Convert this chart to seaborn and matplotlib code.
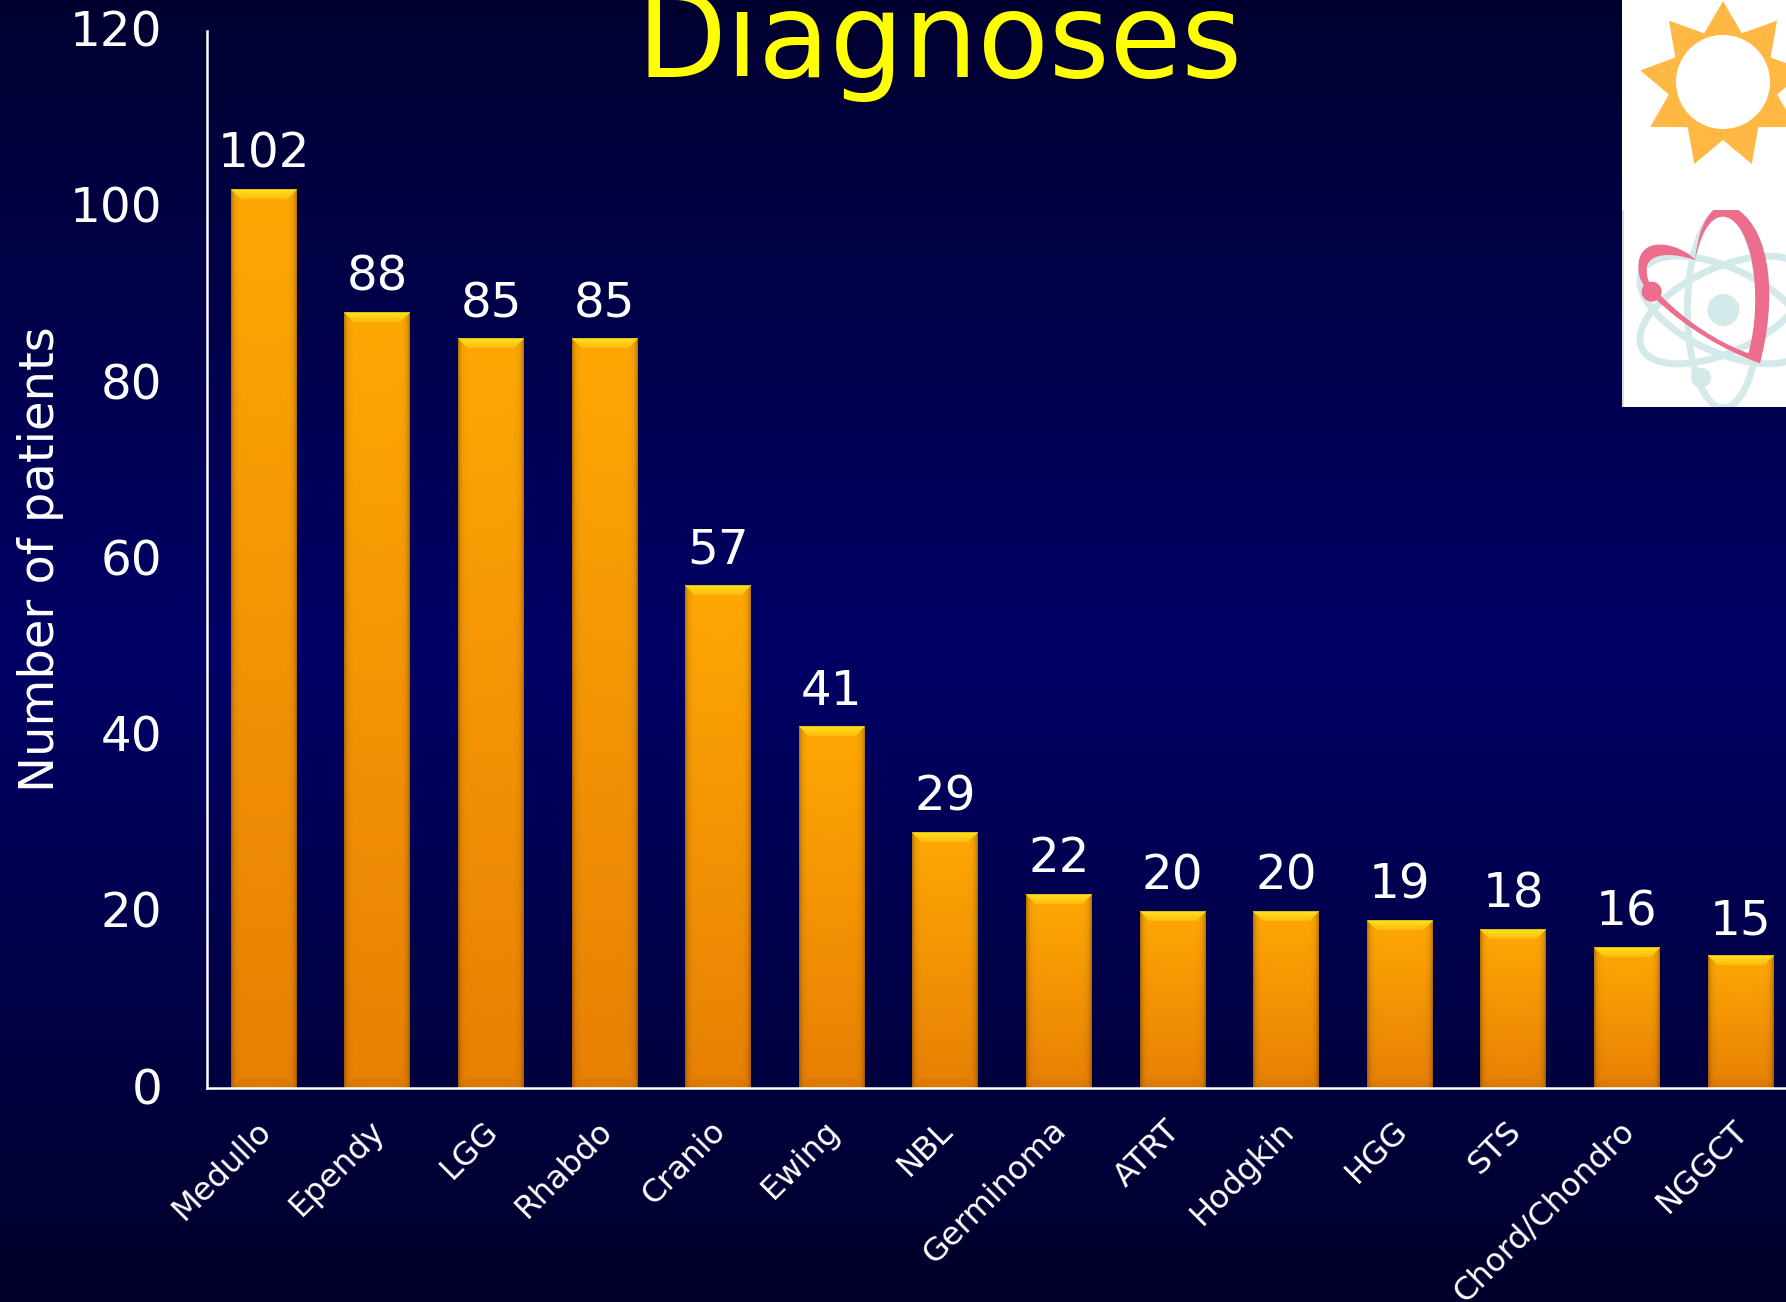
import numpy as np
import pandas as pd
import matplotlib
matplotlib.use("Agg")
import matplotlib.pyplot as plt
import seaborn as sns
from matplotlib.patches import Rectangle, Circle, Ellipse, Polygon, PathPatch
from matplotlib.path import Path
from matplotlib.transforms import ScaledTranslation

diagnoses = ["Medullo", "Ependy", "LGG", "Rhabdo", "Cranio", "Ewing", "NBL", "Germinoma",
             "ATRT", "Hodgkin", "HGG", "STS", "Chord/Chondro", "NGGCT"]
patients = [102, 88, 85, 85, 57, 41, 29, 22, 20, 20, 19, 18, 16, 15]
y_ticks = [0, 20, 40, 60, 80, 100, 120]

W, H = 1786, 1302
LEFT, BASE, TOP, STEP = 207, 1088, 30.5, 113.6


def bar_image(w, h):
    # orange bar with a bevel, built per pixel
    t = np.linspace(0, 1, h)[:, None]
    top_c = np.array([255, 168, 5]) / 255
    bot_c = np.array([232, 128, 5]) / 255
    img = np.ones((h, w, 3)) * (top_c + (bot_c - top_c) * t[..., None])
    yy, xx = np.mgrid[0:h, 0:w]
    side = np.minimum(xx, w - 1 - xx)
    dtop = yy
    dbot = h - 1 - yy
    bev = 10
    # dark side edges
    shade = 1 - 0.28 * np.exp(-side / 2.5)
    img *= shade[..., None]
    # yellow top bevel
    mask = (dtop < bev) & (dtop <= side)
    f = (1 - dtop / bev)[..., None]
    yellow = np.array([255, 225, 30]) / 255
    img = np.where(mask[..., None], img + (yellow - img) * (0.3 + 0.7 * f), img)
    img[:1] = img[:1] * 0.85
    # darker bottom bevel
    mask = (dbot < bev) & (dbot <= side)
    img = np.where(mask[..., None], img * 0.96, img)
    return np.clip(img, 0, 1)


df = pd.DataFrame({"diagnosis": diagnoses, "patients": patients})

fig = plt.figure(figsize=(W / 100, H / 100), dpi=100)

# navy background, dark at top and bottom
bg = fig.add_axes([0, 0, 1, 1], zorder=-1)
bg.axis("off")
ramp = np.interp(np.linspace(0, 1, 600), [0, 0.5, 1], [48, 102, 42])
grad = np.zeros((600, 1, 3))
grad[..., 2] = ramp[:, None] / 255
bg.imshow(grad, aspect="auto", extent=[0, 1, 0, 1])

ax = fig.add_axes([LEFT / W, 1 - BASE / H, 14 * STEP / W, (BASE - TOP) / H])
ax.patch.set_alpha(0)
sns.barplot(data=df, x="diagnosis", y="patients", color="#FFA505", width=0.58, saturation=1, ax=ax)
ax.set_xlim(-0.5, 13.5)
ax.set_ylim(0, 120)

for bar in list(ax.patches):
    (x0, y0), (x1, y1) = ax.transData.transform([(bar.get_x(), 0),
                                                 (bar.get_x() + bar.get_width(), bar.get_height())])
    ax.imshow(bar_image(int(round(x1 - x0)), int(round(y1 - y0))), aspect="auto", zorder=2,
              extent=[bar.get_x(), bar.get_x() + bar.get_width(), 0, bar.get_height()])
ax.set_xlim(-0.5, 13.5)
ax.set_ylim(0, 120)

ax.bar_label(ax.containers[0], fmt="%d", padding=8.5, color="white", fontsize=34.8)

for name in ["top", "right"]:
    ax.spines[name].set_visible(False)
for name in ["left", "bottom"]:
    ax.spines[name].set_color("white")
    ax.spines[name].set_linewidth(1.8)
    ax.spines[name].set_zorder(3)

ax.set_yticks(y_ticks)
ax.tick_params(axis="y", length=0, pad=32, labelsize=34.8, labelcolor="white")
ax.tick_params(axis="x", length=0, pad=19.5, labelsize=23.2, labelcolor="white")
ax.set_xticks(range(len(diagnoses)))
ax.set_xticklabels(diagnoses, rotation=45, ha="right", rotation_mode="anchor")
for lab in ax.get_xticklabels():
    lab.set_transform(lab.get_transform() + ScaledTranslation(-8 / 100, 0, fig.dpi_scale_trans))
for lab in ax.get_yticklabels():
    lab.set_transform(lab.get_transform() + ScaledTranslation(0, 2.3 / 100, fig.dpi_scale_trans))
ax.set_xlabel("")
ax.set_ylabel("")

fig.text(41 / W, 1 - 559 / H, "Number of patients", color="white", fontsize=34.6,
         rotation=90, ha="center", va="center")
fig.text(940 / W, 1 - 77 / H, "Diagnoses", color="#FFFF00", fontsize=84, ha="center", va="baseline")

# logos in the top right corner, in pixel coordinates
logo = fig.add_axes([0, 0, 1, 1], zorder=5)
logo.set_xlim(0, W)
logo.set_ylim(H, 0)
logo.axis("off")
logo.add_patch(Rectangle((1622, 0), W - 1622, 407, color="white", lw=0))

ang = np.radians(90 + np.arange(18) * 20)
rad = np.where(np.arange(18) % 2 == 0, 84, 55)
logo.add_patch(Polygon(np.c_[1723 + rad * np.cos(ang), 85 - rad * np.sin(ang)], color="#FFB843", lw=0))
logo.add_patch(Circle((1723, 82), 47, color="white", lw=0))


def z(px, py):
    return 1500 + px / 3, py / 3


teal = "#D3E9EA"
pink = "#EC6E8C"
clip = Rectangle((1622, 210), W - 1622, 197, transform=logo.transData)
for width, height, angle in [(72, 196, 0), (180, 84, -25), (180, 84, 25)]:
    e = Ellipse(z(670, 930), width, height, angle=angle, fill=False, ec=teal, lw=5)
    logo.add_patch(e)
    e.set_clip_path(clip)
logo.add_patch(Circle(z(670, 930), 16, color=teal, lw=0))
logo.add_patch(Circle(z(603, 1133), 10, color=teal, lw=0))
logo.add_patch(Rectangle((1622, 210), 1.5, 197, color="#DDDDDD", lw=0))

verts = [(780, 1090), (830, 900), (815, 700), (715, 630), (640, 630),
         (610, 660), (595, 700), (585, 778),
         (530, 725), (415, 705), (415, 800),
         (415, 840), (430, 850), (440, 870), (470, 900),
         (560, 985), (670, 1050), (780, 1090),
         (745, 1060),
         (650, 1025), (560, 965), (480, 885),
         (450, 860), (440, 840), (440, 805),
         (445, 760), (510, 755), (585, 780),
         (600, 710), (625, 650), (670, 650),
         (760, 660), (790, 900), (745, 1060),
         (745, 1060)]
codes = [Path.MOVETO, Path.CURVE4, Path.CURVE4, Path.CURVE4, Path.LINETO,
         Path.CURVE4, Path.CURVE4, Path.CURVE4,
         Path.CURVE4, Path.CURVE4, Path.CURVE4,
         Path.CURVE4, Path.CURVE4, Path.CURVE4, Path.LINETO,
         Path.CURVE4, Path.CURVE4, Path.CURVE4,
         Path.MOVETO,
         Path.CURVE4, Path.CURVE4, Path.CURVE4,
         Path.CURVE4, Path.CURVE4, Path.CURVE4,
         Path.CURVE4, Path.CURVE4, Path.CURVE4,
         Path.CURVE4, Path.CURVE4, Path.CURVE4,
         Path.CURVE4, Path.CURVE4, Path.CURVE4,
         Path.CLOSEPOLY]
heart = PathPatch(Path([z(*v) for v in verts], codes), fc=pink, ec="none")
logo.add_patch(heart)
logo.add_patch(Circle(z(455, 875), 10, color=pink, lw=0))

fig.savefig("out.png", dpi=100)
